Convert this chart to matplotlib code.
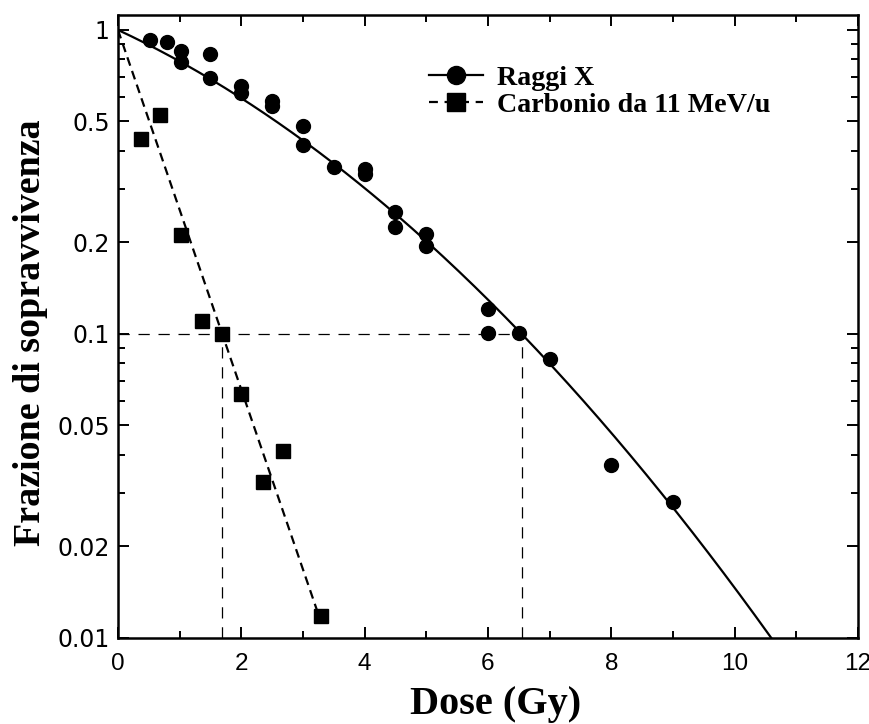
import numpy as np
import matplotlib
matplotlib.use("Agg")
import matplotlib.pyplot as plt
from matplotlib.ticker import FixedLocator, NullFormatter
from matplotlib.lines import Line2D

# dati: frazione di sopravvivenza vs dose
dose_x = [0.52, 0.79, 1.02, 1.02, 1.5, 1.5, 2.0, 2.0, 2.5, 2.5, 3.0, 3.0, 3.5,
          4.0, 4.0, 4.5, 4.5, 5.0, 5.0, 6.0, 6.0, 6.5, 7.0, 8.0, 9.0]
surv_x = [0.927, 0.913, 0.853, 0.785, 0.834, 0.695, 0.654, 0.62, 0.584, 0.562,
          0.483, 0.418, 0.354, 0.35, 0.336, 0.252, 0.224, 0.213, 0.195, 0.121,
          0.101, 0.101, 0.083, 0.037, 0.028]

dose_c = [0.37, 0.68, 1.02, 1.36, 1.69, 2.0, 2.35, 2.67, 3.3]
surv_c = [0.438, 0.525, 0.211, 0.11, 0.1, 0.0636, 0.0326, 0.0412, 0.0118]

# parametri delle curve (modello lineare-quadratico)
alpha_x, beta_x = 0.2175, 0.0205
alpha_c = 1.362
d10_x, d10_c = 6.55, 1.69   # dose al 10% di sopravvivenza

y_ticks = [0.01, 0.02, 0.05, 0.1, 0.2, 0.5, 1]
y_ticklabels = ['0.01', '0.02', '0.05', '0.1', '0.2', '0.5', '1']
x_ticks = [0, 2, 4, 6, 8, 10, 12]

fig = plt.figure(figsize=(8.7, 7.24), dpi=100)
ax = fig.add_axes([0.1356, 0.1188, 0.8506, 0.8605])

# curve di fit
dd = np.linspace(0, 10.8, 300)
ax.plot(dd, np.exp(-alpha_x * dd - beta_x * dd**2), color='black', lw=1.6)
dc = np.linspace(0, 3.3, 100)
ax.plot(dc, np.exp(-alpha_c * dc), color='black', lw=1.6, ls=(0, (4, 2.5)))

# linee di riferimento al 10%
ax.plot([0, d10_x], [0.1, 0.1], color='black', lw=0.9, ls=(0, (9, 7)))
ax.plot([d10_c, d10_c], [0.01, 0.1], color='black', lw=0.9, ls=(0, (9, 7)))
ax.plot([d10_x, d10_x], [0.01, 0.1], color='black', lw=0.9, ls=(0, (9, 7)))

ax.plot(dose_x, surv_x, 'o', color='black', ms=10, mec='black')
ax.plot(dose_c, surv_c, 's', color='black', ms=9.5, mec='black')

ax.set_yscale('log')
ax.set_xlim(0, 12)
ax.set_ylim(0.01, 1.12)

ax.yaxis.set_major_locator(FixedLocator(y_ticks))
ax.set_yticklabels(y_ticklabels)
minor_y = [v * m for v in [0.01, 0.1] for m in range(2, 10)]
minor_y = [v for v in minor_y if round(v, 4) not in y_ticks]
ax.yaxis.set_minor_locator(FixedLocator(minor_y))
ax.yaxis.set_minor_formatter(NullFormatter())
ax.xaxis.set_major_locator(FixedLocator(x_ticks))
ax.xaxis.set_minor_locator(FixedLocator([1, 3, 5, 7, 9, 11]))

ax.tick_params(which='both', direction='in', top=True, right=True, width=1.4)
ax.tick_params(which='major', length=8)
ax.tick_params(which='minor', length=5)
# etichette y piu' larghe come nell'originale
ax.tick_params(axis='y', pad=6, labelsize=17, labelfontfamily='DejaVu Sans')
ax.tick_params(axis='x', pad=11, labelsize=17.5, labelfontfamily='Liberation Sans')
for sp in ax.spines.values():
    sp.set_linewidth(1.8)

ax.set_xlabel('Dose (Gy)', fontfamily='Liberation Serif', fontweight='bold', fontsize=29)
ax.set_ylabel('Frazione di sopravvivenza', fontfamily='Liberation Serif', fontweight='bold', fontsize=27.4)
ax.xaxis.set_label_coords(0.51, -0.077)
ax.yaxis.set_label_coords(-0.095, 0.49)

handles = [Line2D([], [], color='black', lw=1.6, marker='o', ms=13),
           Line2D([], [], color='black', lw=1.6, ls=(0, (4, 3)), marker='s', ms=13)]
ax.legend(handles, ['Raggi X', 'Carbonio da 11 MeV/u'], loc='upper left',
          bbox_to_anchor=(0.402, 0.942), frameon=False, handlelength=1.9,
          handletextpad=0.5, labelspacing=0.05, borderpad=0,
          prop={'family': 'Liberation Serif', 'weight': 'bold', 'size': 20.2})

fig.savefig('out.png', dpi=100)
